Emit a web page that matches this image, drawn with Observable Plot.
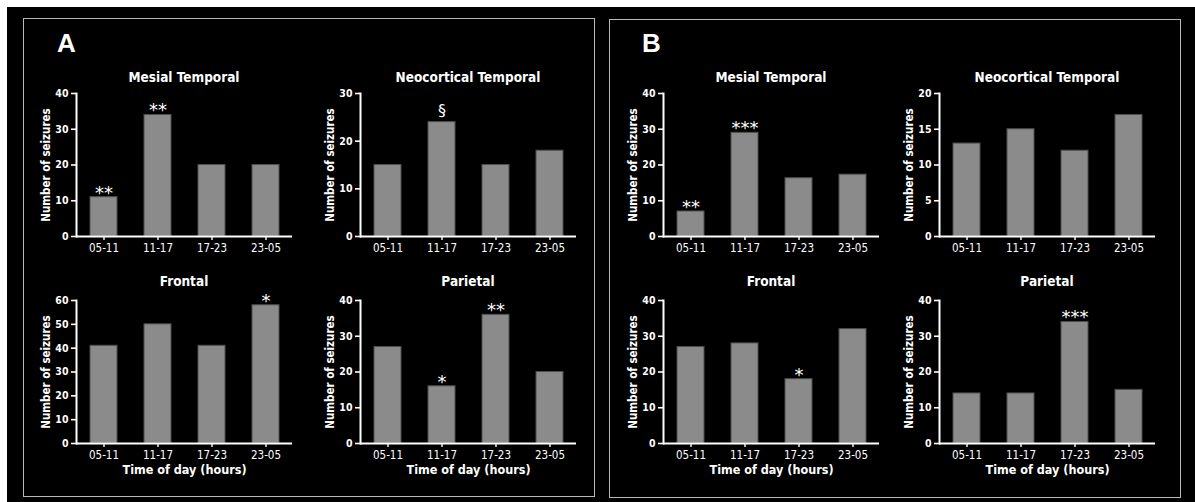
<!DOCTYPE html>
<html>
<head>
<meta charset="utf-8">
<script src="https://cdn.jsdelivr.net/npm/d3@7"></script>
<script src="https://cdn.jsdelivr.net/npm/@observablehq/plot@0.6"></script>
<style>
  html, body { margin: 0; padding: 0; background: #fff; }
  #page { position: relative; width: 1195px; height: 502px; overflow: hidden; }
  #ink { position: absolute; left: 7px; top: 7px; right: 0; bottom: 0; background: #000; }
  .panel { position: absolute; border: 1.5px solid #b9b9b9; box-sizing: border-box; }
  .letter { position: absolute; color: #fff; font: bold 26px "Liberation Sans", Arial, sans-serif; line-height: 26px; }
  .title { position: absolute; width: 220px; color: #fff; text-align: center; white-space: nowrap;
           font-family: "DejaVu Sans Condensed", "DejaVu Sans", sans-serif; font-stretch: condensed;
           font-weight: bold; font-size: 13.5px; line-height: 16px; }
  .sub { position: absolute; }
</style>
</head>
<body>
<div id="page"><div id="ink"></div></div>
<script>
// Time-of-day bins shared by every panel
const slots = ["05-11", "11-17", "17-23", "23-05"];

// A: seizure counts per lobe
const aMesial = [11, 34, 20, 20];
const aNeocortical = [15, 24, 15, 18];
const aFrontal = [41, 50, 41, 58];
const aParietal = [27, 16, 36, 20];

// B: seizure counts per lobe
const bMesial = [7, 29, 16.3, 17.3];
const bNeocortical = [13, 15, 12, 17];
const bFrontal = [27, 28, 18, 32];
const bParietal = [14, 14, 34, 15];

// Significance markers above the bars
const aMesialSig = ["**", "**", "", ""];
const aNeocorticalSig = ["", "§", "", ""];
const aFrontalSig = ["", "", "", "*"];
const aParietalSig = ["", "*", "**", ""];
const bMesialSig = ["**", "***", "", ""];
const bNeocorticalSig = ["", "", "", ""];
const bFrontalSig = ["", "", "*", ""];
const bParietalSig = ["", "", "***", ""];

// Y-axis tick values
const ticks20by5 = [0, 5, 10, 15, 20];
const ticks30 = [0, 10, 20, 30];
const ticks40 = [0, 10, 20, 30, 40];
const ticks60 = [0, 10, 20, 30, 40, 50, 60];

const panelLetters = ["A", "B"];
const titles = ["Mesial Temporal", "Neocortical Temporal", "Frontal", "Parietal"];
const yLabel = "Number of seizures";
const xLabel = "Time of day (hours)";

// ---- layout ----
const page = document.getElementById("page");
const FRAME_W = 216;
const rowsLayout = [
  {svgTop: 85, marginTop: 8, marginBottom: 28, frameH: 143, titleTop: 69},
  {svgTop: 290, marginTop: 10, marginBottom: 45, frameH: 143, titleTop: 273}
];

function addDiv(cls, css, text) {
  const d = document.createElement("div");
  d.className = cls;
  Object.assign(d.style, css);
  if (text != null) d.textContent = text;
  page.appendChild(d);
  return d;
}

// panel borders and letters
addDiv("panel", {left: "23px", top: "18px", width: "572px", height: "479px"});
addDiv("panel", {left: "609px", top: "19px", width: "572px", height: "479px"});
addDiv("letter", {left: "57px", top: "30px"}, panelLetters[0]);
addDiv("letter", {left: "642px", top: "30px"}, panelLetters[1]);

const cells = [
  {title: titles[0], values: aMesial, sig: aMesialSig, max: 40, ticks: ticks40, axisX: 76, row: 0},
  {title: titles[1], values: aNeocortical, sig: aNeocorticalSig, max: 30, ticks: ticks30, axisX: 360, row: 0},
  {title: titles[2], values: aFrontal, sig: aFrontalSig, max: 60, ticks: ticks60, axisX: 76, row: 1},
  {title: titles[3], values: aParietal, sig: aParietalSig, max: 40, ticks: ticks40, axisX: 360, row: 1},
  {title: titles[0], values: bMesial, sig: bMesialSig, max: 40, ticks: ticks40, axisX: 663, row: 0},
  {title: titles[1], values: bNeocortical, sig: bNeocorticalSig, max: 20, ticks: ticks20by5, axisX: 939, row: 0},
  {title: titles[2], values: bFrontal, sig: bFrontalSig, max: 40, ticks: ticks40, axisX: 663, row: 1},
  {title: titles[3], values: bParietal, sig: bParietalSig, max: 40, ticks: ticks40, axisX: 939, row: 1}
];

const ML = 60, MR = 8;
const condensed = "'DejaVu Sans Condensed', 'DejaVu Sans', sans-serif";
const narrow = "'Liberation Sans Narrow', 'DejaVu Sans Condensed', sans-serif";

for (const c of cells) {
  const L = rowsLayout[c.row];
  const rows = slots.map((slot, i) => ({slot, count: c.values[i], sig: c.sig[i]}));
  const stars = rows.filter(d => d.sig.startsWith("*"));
  const others = rows.filter(d => d.sig && !d.sig.startsWith("*"));

  const marks = [
    Plot.barY(rows, {x: "slot", y: "count", fill: "#8b8b8b", stroke: "#4e4e4e", strokeWidth: 1}),
    Plot.ruleY([0], {stroke: "#fff", strokeWidth: 2}),
    Plot.frame({anchor: "left", stroke: "#fff", strokeWidth: 2}),
    Plot.axisY({ticks: c.ticks, tickSize: 5, tickPadding: 3, strokeWidth: 1.6, label: null,
                fontSize: 10.5, fontWeight: "bold", fontFamily: condensed}),
    Plot.axisX({tickSize: 4, tickPadding: 3, strokeWidth: 1.4, label: null,
                fontSize: 11.5, fontFamily: narrow}),
    Plot.text([yLabel], {frameAnchor: "left", textAnchor: "middle", rotate: -90, dx: -30.5,
                         fontSize: 11.5, fontWeight: "bold", fontFamily: condensed, fill: "#fff"}),
    Plot.text(stars, {x: "slot", y: "count", text: "sig", lineAnchor: "bottom", dy: 1.5,
                      fontSize: 18, fontFamily: "'DejaVu Sans', sans-serif", fill: "#fff"}),
    Plot.text(others, {x: "slot", y: "count", text: "sig", lineAnchor: "bottom", dy: -6,
                       fontSize: 16, fontFamily: "'DejaVu Sans', sans-serif", fill: "#fff"})
  ];
  if (c.row === 1) {
    marks.push(Plot.text([xLabel], {frameAnchor: "bottom", dy: 30, fontSize: 12.5,
                                     fontWeight: "bold", fontFamily: condensed, fill: "#fff"}));
  }

  const chart = Plot.plot({
    width: ML + FRAME_W + MR,
    height: L.marginTop + L.frameH + L.marginBottom,
    marginLeft: ML, marginRight: MR, marginTop: L.marginTop, marginBottom: L.marginBottom,
    style: {background: "transparent", color: "#fff", overflow: "visible", fontFamily: condensed},
    x: {domain: slots, paddingInner: 0.5, paddingOuter: 0.25, align: 0.5},
    y: {domain: [0, c.max]},
    marks
  });

  const holder = addDiv("sub", {left: (c.axisX - ML) + "px", top: L.svgTop + "px"});
  holder.appendChild(chart);
  addDiv("title", {left: (c.axisX + FRAME_W / 2 - 110) + "px", top: L.titleTop + "px"}, c.title);
}
</script>
</body>
</html>
